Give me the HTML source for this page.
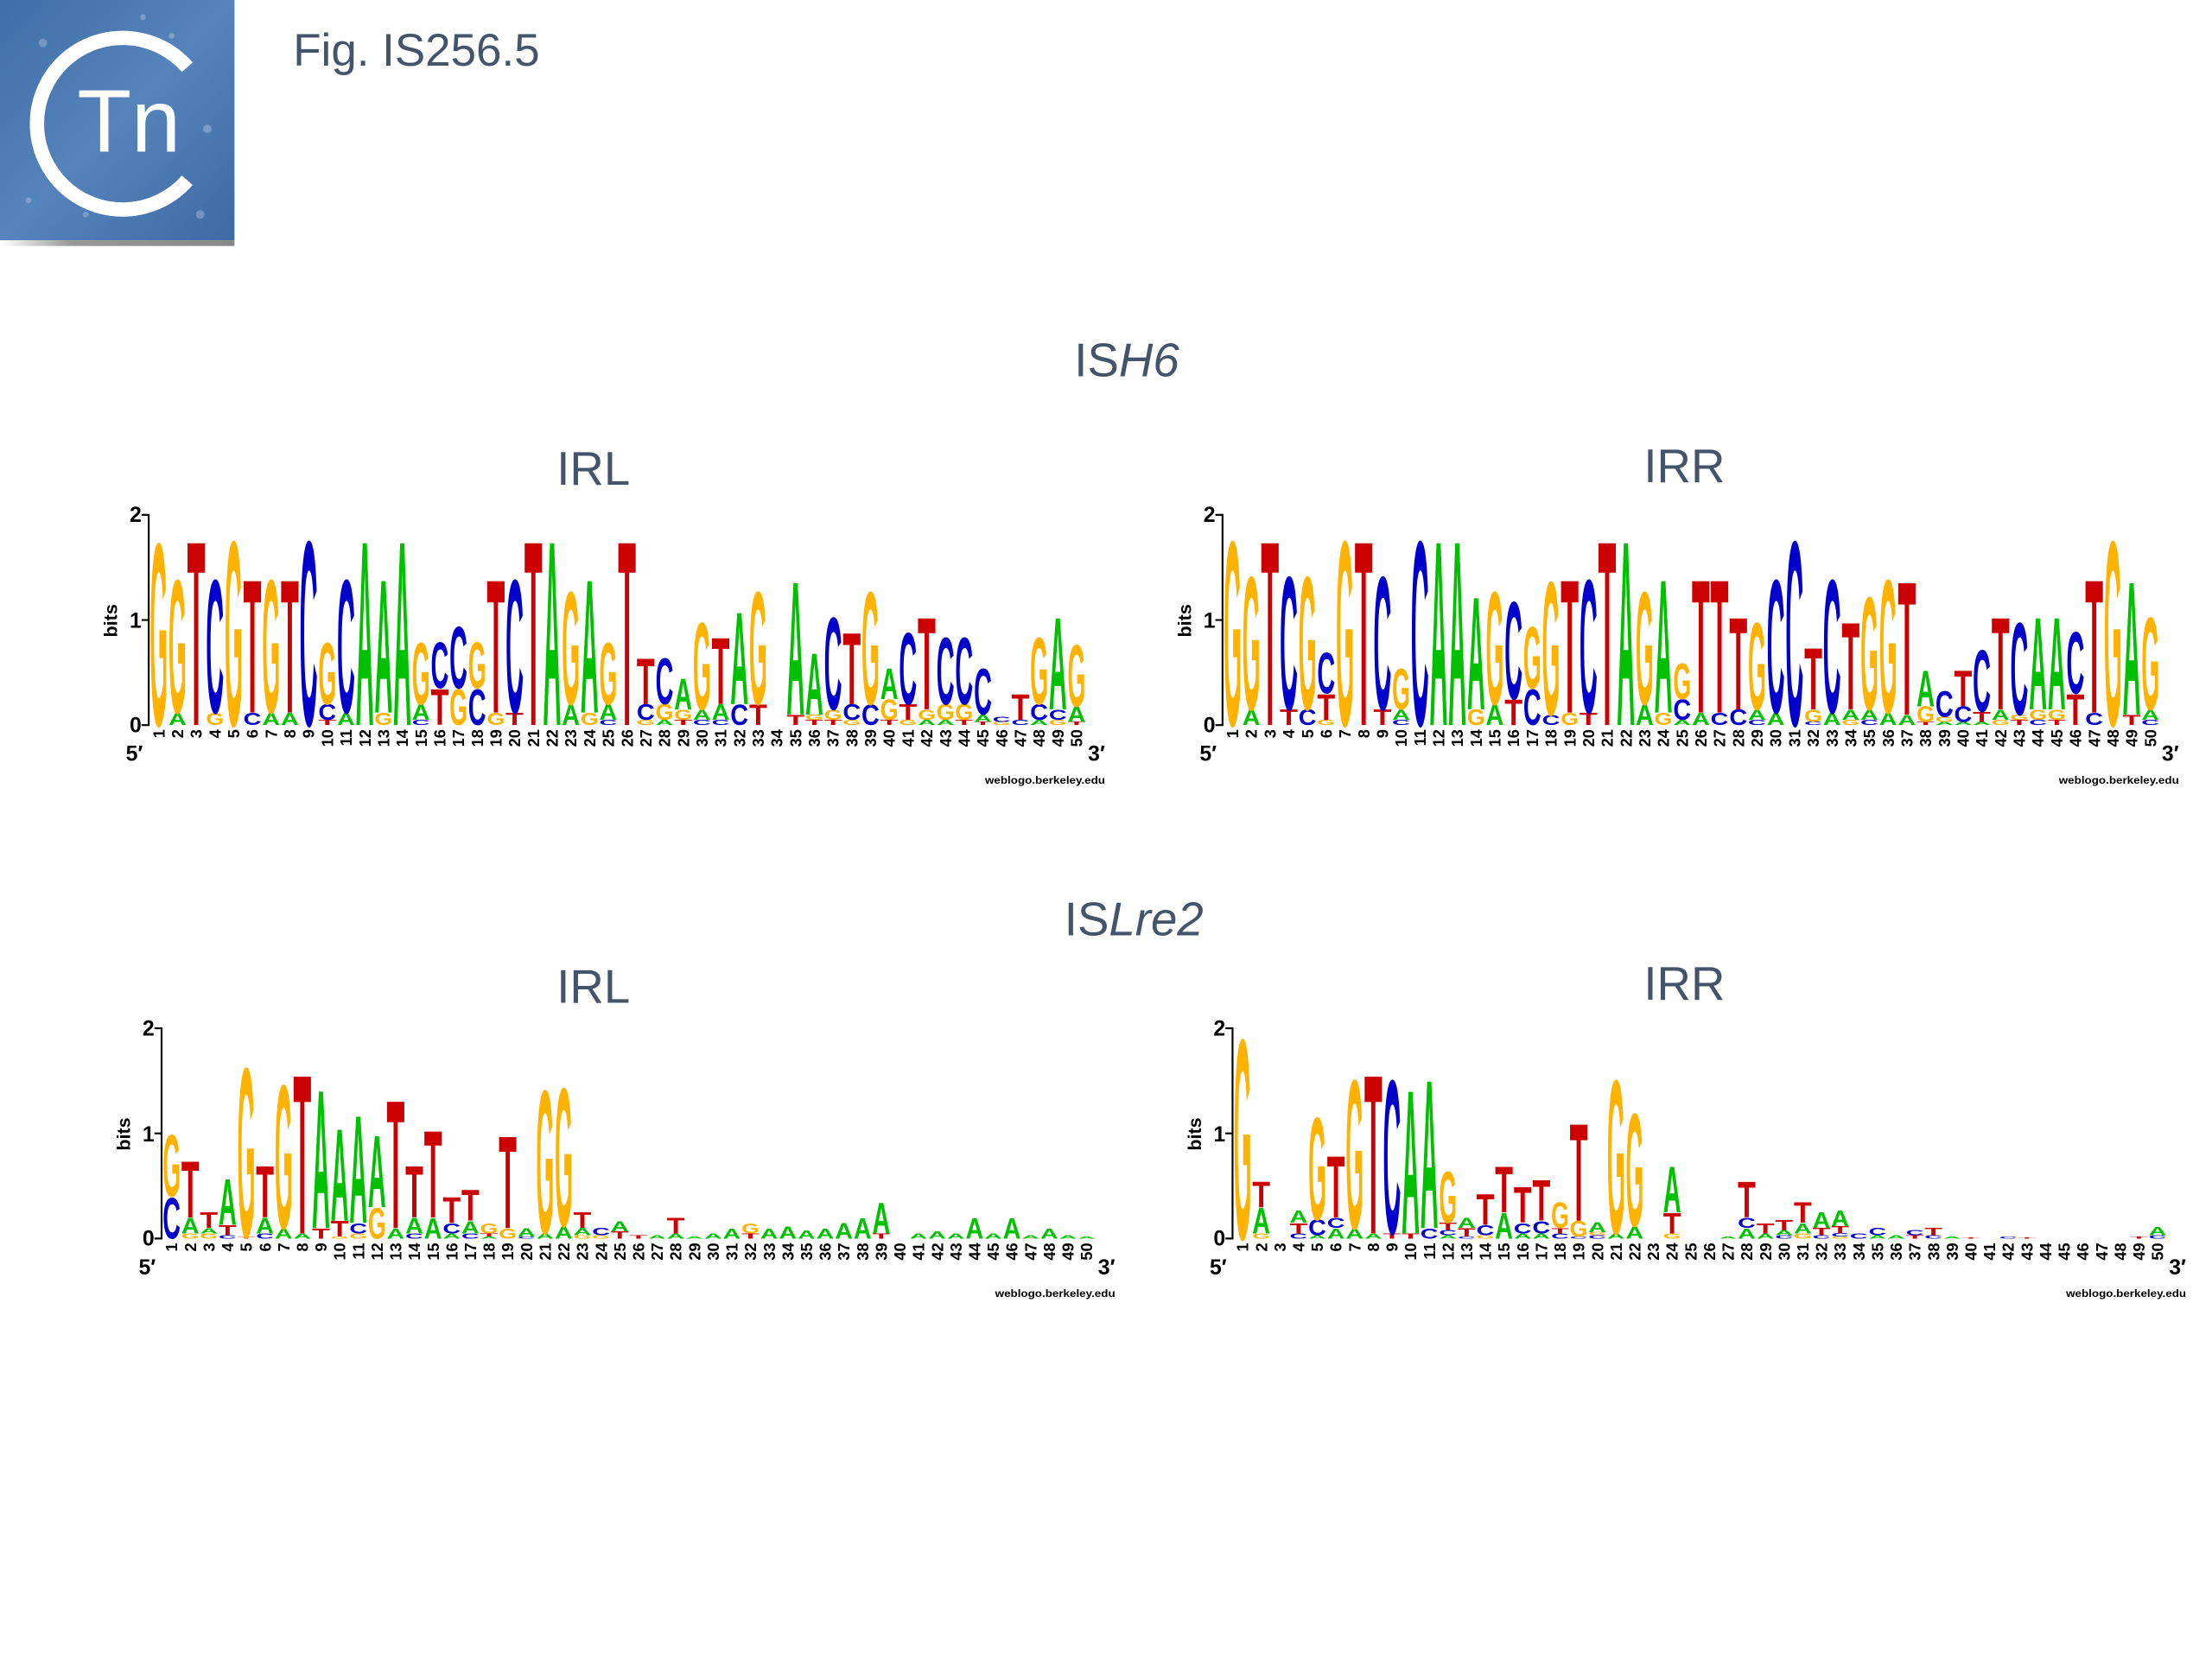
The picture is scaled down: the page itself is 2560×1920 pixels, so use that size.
<!DOCTYPE html>
<html><head><meta charset="utf-8">
<style>
html,body{margin:0;padding:0;background:#fff;}
svg{display:block;}
</style></head>
<body>
<svg id="s" xmlns="http://www.w3.org/2000/svg" width="2560" height="1920" viewBox="0 0 1547 1160" preserveAspectRatio="none">
<defs>
<linearGradient id="bg" x1="0" y1="0" x2="1" y2="1">
<stop offset="0" stop-color="#3f6fa8"/><stop offset="0.5" stop-color="#5583bb"/><stop offset="1" stop-color="#3d6aa3"/>
</linearGradient>
<linearGradient id="sh" x1="0" y1="0" x2="1" y2="0">
<stop offset="0" stop-color="#fff"/><stop offset="0.3" stop-color="#999"/><stop offset="1" stop-color="#888"/>
</linearGradient>
</defs>
<rect x="0" y="0" width="1547" height="1160" fill="#fff"/>
<rect x="0" y="0" width="164" height="168" fill="url(#bg)"/>
<rect x="0" y="168" width="164" height="4" fill="url(#sh)"/>
<g fill="#fff" opacity="0.25">
<circle cx="30" cy="30" r="3"/><circle cx="120" cy="25" r="2"/><circle cx="145" cy="90" r="3"/><circle cx="20" cy="140" r="2"/><circle cx="60" cy="150" r="2"/><circle cx="140" cy="150" r="3"/><circle cx="100" cy="12" r="2"/>
</g>
<path d="M 131 47 A 60 60 0 1 0 131 126" fill="none" stroke="#fff" stroke-width="10"/>
<text x="54" y="106" font-family="Liberation Sans, sans-serif" font-size="62" fill="#fff">Tn</text>
<text x="205" y="46" font-family="Liberation Sans, sans-serif" font-size="32" fill="#44546a">Fig. IS256.5</text>
<g font-family="Liberation Sans, sans-serif" font-size="33" fill="#44546a" text-anchor="middle">
<text x="788" y="263">IS<tspan font-style="italic">H6</tspan></text>
<text x="415" y="339">IRL</text>
<text x="1178" y="337">IRR</text>
<text x="793" y="654">IS<tspan font-style="italic">Lre2</tspan></text>
<text x="415" y="701">IRL</text>
<text x="1178" y="699">IRR</text>
</g>
<g id="logos"></g>
</svg>
<script>
var P=[
{ax:104,y0:507,c1:111,st:13.1,d:
"G1.78|A.12 G1.3|T1.8|G.12 C1.3|G1.8|C.12 T1.3|A.12 G1.3|A.12 T1.3|C1.8|T.05 C.15 G.6|A.12 C1.3|A1.8|G.12 A1.3|A1.8|C.05 A.15 G.6|T.35 C.45|G.35 C.6|C.35 G.45|G.12 T1.3|T.12 C1.3|T1.8|A1.8|A.2 G1.1|G.12 A1.3|C.05 A.15 G.6|T1.8|G.05 C.15 T.45|A.05 G.15 C.45|T.05 G.1 A.3|C.05 A.1 G.85|C.05 A.15 T.65|C.2 A.9|T.2 G1.1||T.1 A1.3|T.05 G.05 A.6|T.05 G.1 C.9|G.05 C.15 T.7|C.2 G1.1|T.05 G.2 A.3|G.05 T.15 C.7|A.05 G.1 T.9|A.05 G.15 C.65|T.05 G.15 C.65|T.03 A.07 C.45|G.03 C.05|C.05 T.25|A.05 C.15 G.65|G.05 C.1 A.9|T.03 A.15 G.6"},
{ax:855,y0:507,c1:862,st:13.1,d:
"G1.8|A.15 G1.3|T1.8|T.15 C1.3|C.15 G1.3|G.05 T.25 C.4|G1.8|T1.8|T.15 C1.3|C.05 A.1 G.4|C1.8|A1.8|A1.8|G.15 A1.1|A.2 G1.1|T.25 C.95|C.35 G.6|C.1 G1.3|G.12 T1.3|T.12 C1.3|T1.8|A1.8|A.2 G1.1|G.12 A1.3|A.05 C.2 G.35|A.12 T1.3|C.12 T1.3|C.15 T.9|C.05 A.1 G.85|A.12 C1.3|C1.8|C.03 G.12 T.6|A.12 C1.3|G.05 A.1 T.85|C.05 A.1 G1.1|A.12 G1.3|A.1 T1.3|T.03 G.15 A.35|A.03 G.05 C.25|A.03 C.15 T.35|A.03 T.1 C.6|G.05 A.1 T.9|T.05 G.05 C.9|C.05 G.1 A.9|T.05 G.1 A.9|T.3 C.6|C.12 T1.3|G1.8|T.1 A1.3|C.05 A.1 G.9"},
{ax:113,y0:866,c1:120,st:13.06,d:
"C.4 G.6|G.05 A.15 T.55|G.05 A.05 T.15|C.03 T.1 A.45|T.02 G1.65|C.05 A.15 T.5|A.1 G1.4|A.05 T1.55|T.1 A1.35|G.02 T.15 A.9|G.05 C.1 A1.05|G.3 A.7|A.1 T1.25|C.05 A.15 T.5|A.2 T.85|A.05 C.1 T.25|C.05 A.12 T.3|A.02 T.03 G.1|G.1 T.9|C.02 A.08|A.05 G1.4|A.12 G1.35|G.03 A.07 T.15|G.03 C.07|T.07 A.1|T.03|A.03|A.05 T.15|A.02|A.05|A.1|T.05 G.1|A.1|A.12|A.08|A.1|A.15|A.2|T.05 A.3||A.05|A.07|A.05|A.2|A.05|A.2|A.03|A.1|A.03|A.02"},
{ax:862,y0:866,c1:869,st:13.06,d:
"G1.95|G.05 A.25 T.25||C.05 T.1 A.12|A.03 C.15 G1.0|A.1 C.1 T.6|A.1 G1.45|A.05 T1.55|T.05 C1.5|T.05 A1.4|C.1 A1.45|A.03 C.05 T.07 G.5|C.02 T.08 A.1|G.03 C.1 T.3|A.25 T.45|A.05 C.1 T.35|A.05 C.12 T.4|C.05 T.05 G.25|C.02 G.15 T.95|C.03 G.03 A.1|A.05 G1.5|A.12 G1.1||G.05 T.2 A.45|||A.02|A.1 C.1 T.35|A.05 T.1|C.03 A.05 T.1|G.05 A.1 T.2|C.03 T.07 A.15|G.02 C.03 T.07 A.15|C.05|A.03 C.07|A.03|T.03 C.05|C.03 T.07|A.02|T.01||C.02|T.01||||||T.02|C.03 A.08"}
];
var col={A:"#00c000",C:"#0000cc",G:"#ffb300",T:"#cc0000"};
var k=73.5, out=[];
P.forEach(function(p){
  var x=p.ax,y0=p.y0;
  out.push('<path d="M'+(x-5)+' '+(y0-147)+' H'+x+' V'+y0+' H'+(x-5)+' M'+(x-5)+' '+(y0-73.5)+' H'+x+'" fill="none" stroke="#000" stroke-width="1.3"/>');
  out.push('<g font-family="Liberation Sans, sans-serif" font-weight="bold" font-size="15" text-anchor="end">'+
   '<text x="'+(x-5)+'" y="'+(y0-142)+'">2</text><text x="'+(x-5)+'" y="'+(y0-68)+'">1</text><text x="'+(x-5)+'" y="'+(y0+5)+'">0</text></g>');
  out.push('<text transform="translate('+(x-22)+','+(y0-73)+') rotate(-90)" text-anchor="middle" font-family="Liberation Sans, sans-serif" font-weight="bold" font-size="13">bits</text>');
  out.push('<text x="'+(x-16)+'" y="'+(y0+25)+'" font-family="Liberation Sans, sans-serif" font-weight="bold" font-size="15">5′</text>');
  var xe=p.c1+49*p.st;
  out.push('<text x="'+(xe+8)+'" y="'+(y0+25)+'" font-family="Liberation Sans, sans-serif" font-weight="bold" font-size="15">3′</text>');
  out.push('<text x="'+(xe-22)+'" y="'+(y0+41)+'" text-anchor="middle" font-family="Liberation Sans, sans-serif" font-weight="bold" font-size="7.5" textLength="84" lengthAdjust="spacingAndGlyphs">weblogo.berkeley.edu</text>');
  var cols=p.d.split("|");
  for(var i=0;i<50;i++){
    var cx=p.c1+i*p.st;
    out.push('<text transform="translate('+(cx+4)+','+(y0+3)+') rotate(-90)" text-anchor="end" font-family="Liberation Sans, sans-serif" font-weight="bold" font-size="11">'+(i+1)+'</text>');
    var s=(cols[i]||"").trim(); if(!s) continue;
    var cum=0;
    s.split(" ").forEach(function(t){
      var L=t[0],h=parseFloat(t.slice(1))*k;
      if(h<0.3) h=0.3;
      var yb=y0-cum; cum+=h;
      var w=p.st*0.96;
      out.push('<text transform="translate('+(cx-w/2)+','+yb+') scale(1,'+(h/71.6).toFixed(4)+')" font-family="Liberation Sans, sans-serif" font-weight="bold" font-size="100" fill="'+col[L]+'" textLength="'+w.toFixed(2)+'" lengthAdjust="spacingAndGlyphs">'+L+'</text>');
    });
  }
});
document.getElementById("logos").innerHTML=out.join("");
</script>
</body></html>
